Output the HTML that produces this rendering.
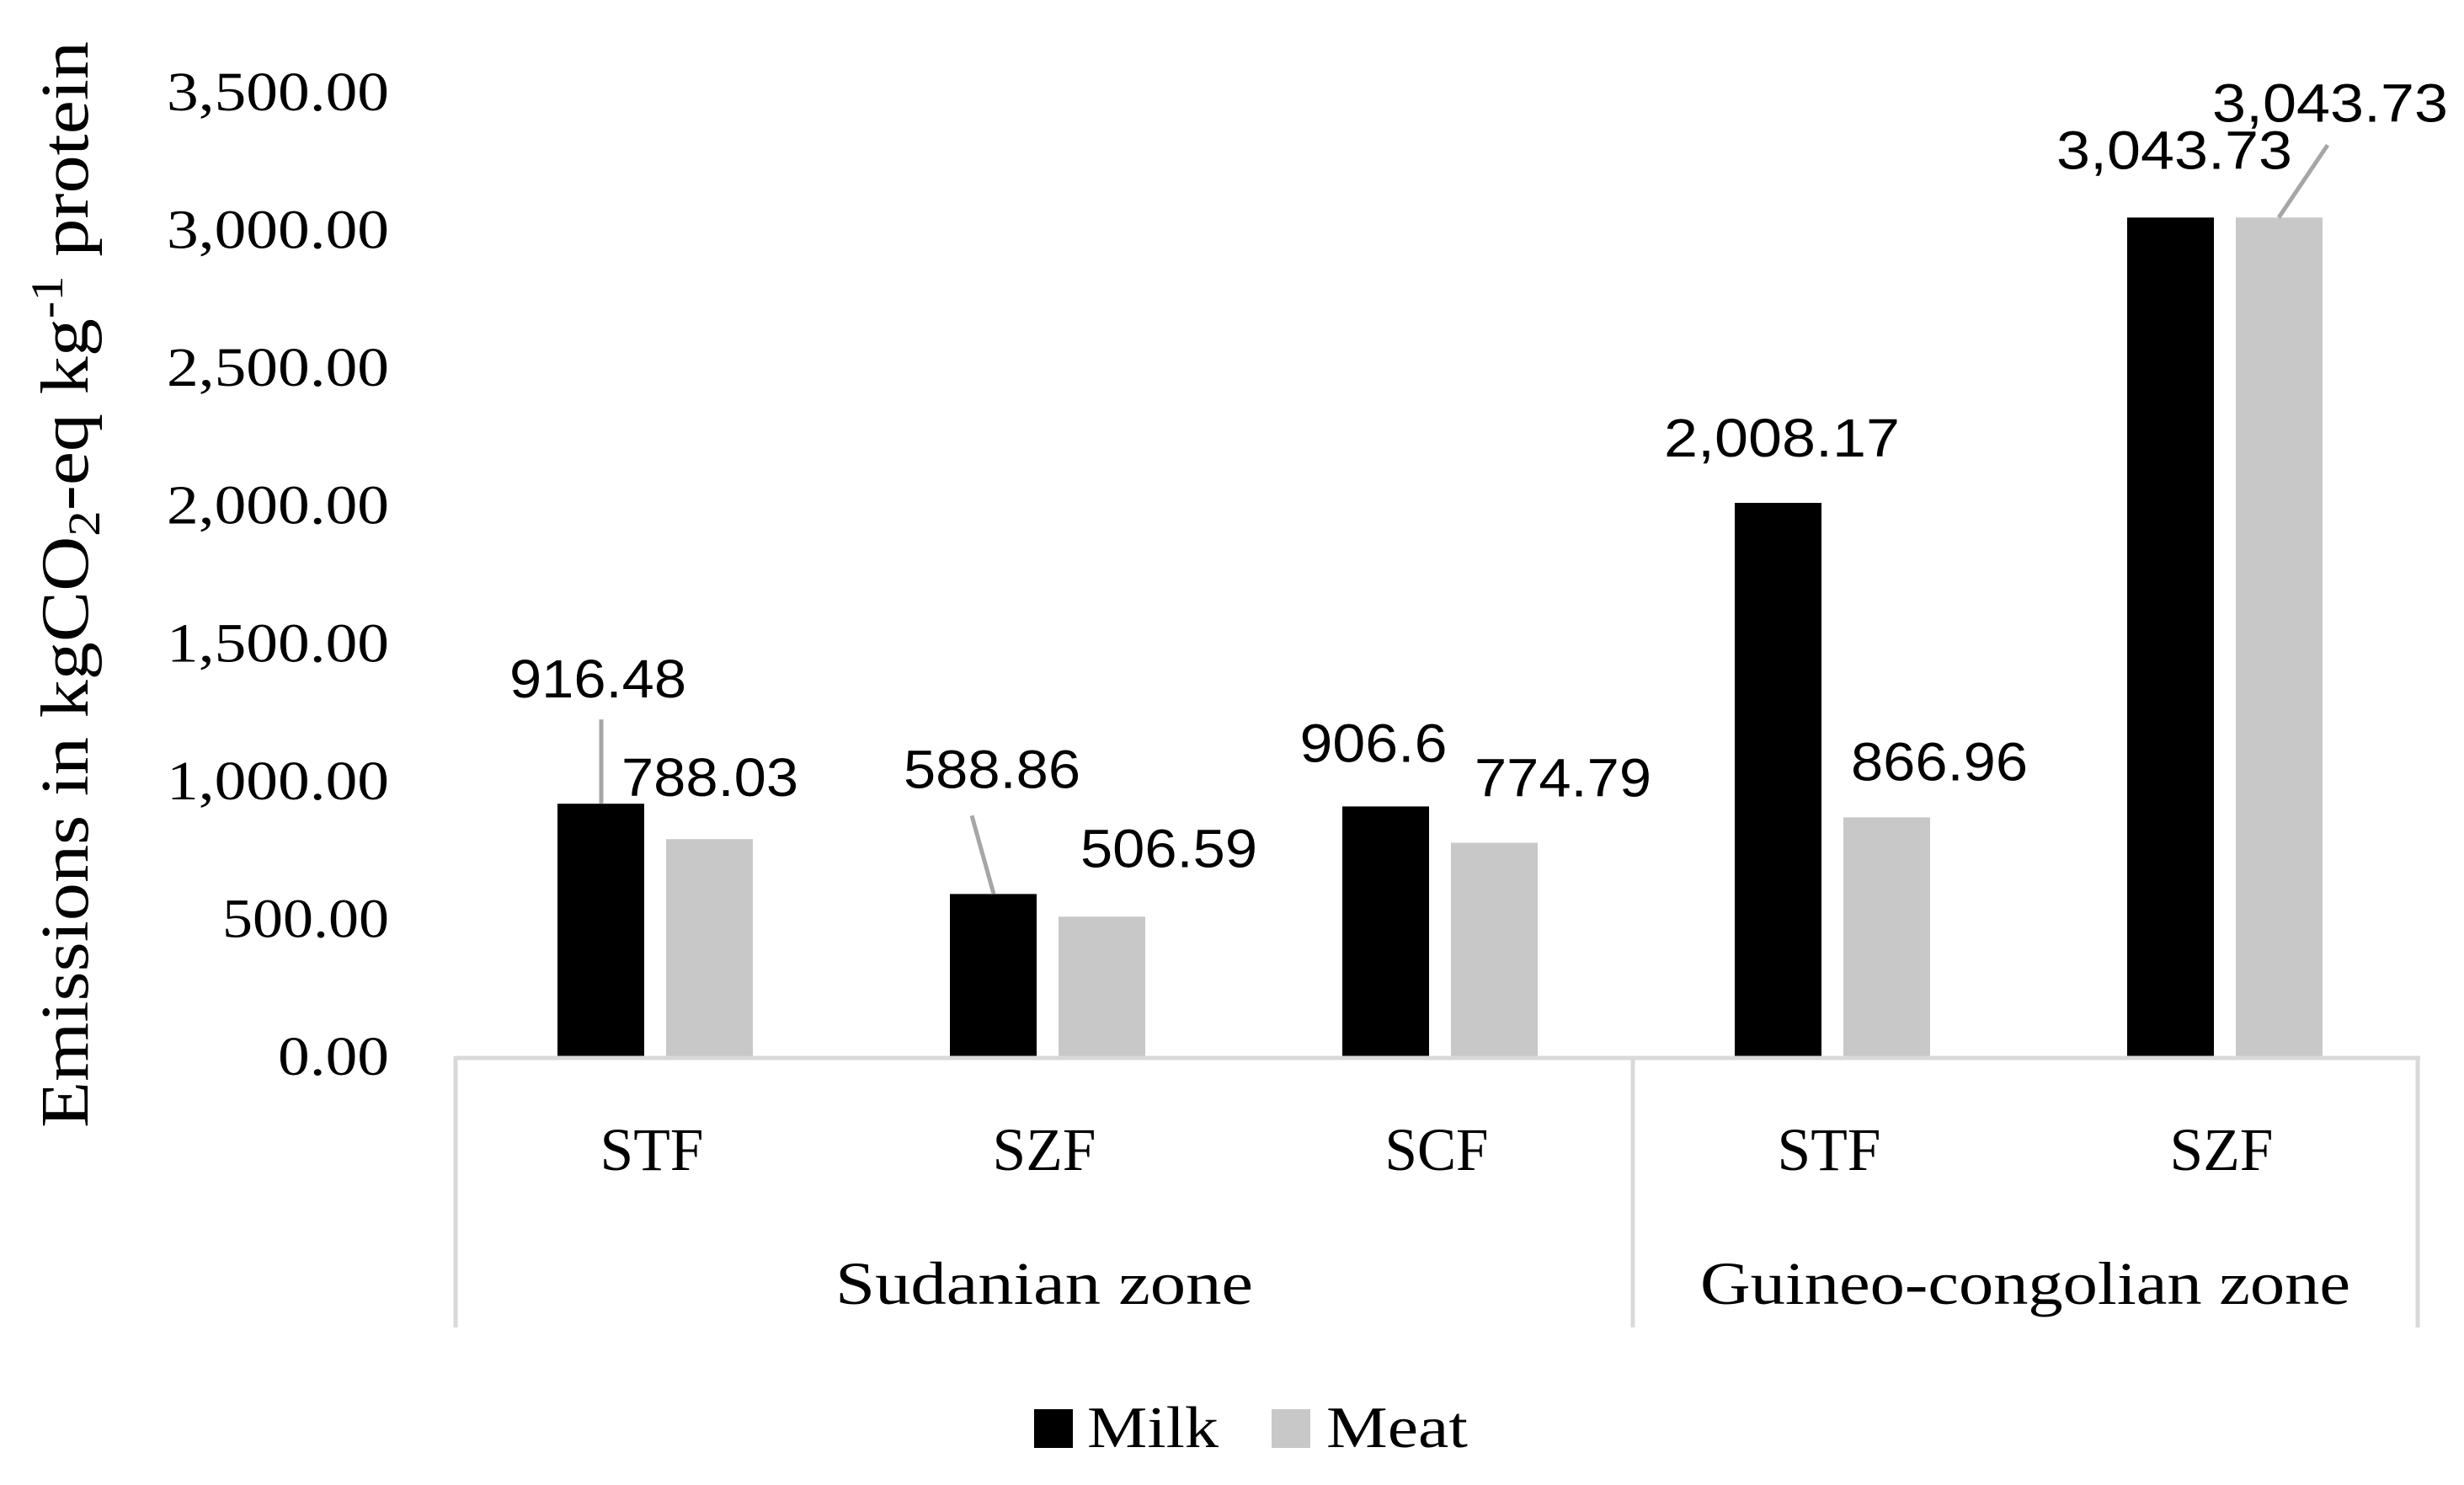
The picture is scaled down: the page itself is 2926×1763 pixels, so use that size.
<!DOCTYPE html>
<html><head><meta charset="utf-8"><style>
html,body{margin:0;padding:0;background:#fff}
svg{display:block}
.ser{font-family:"Liberation Serif",serif;fill:#000}
.san{font-family:"Liberation Sans",sans-serif;fill:#000}
</style></head><body>
<svg id="chart" width="2926" height="1763" viewBox="0 0 2926 1763" xmlns="http://www.w3.org/2000/svg">
<g id="yticks"></g>
<g id="bars"></g>
<g id="labels"></g>
<g id="xaxis"></g>
<text class="ser" transform="translate(104,694) rotate(-90)" text-anchor="middle" font-size="80" textLength="1290" lengthAdjust="spacingAndGlyphs">Emissions in kgCO<tspan font-size="54" dy="14">2</tspan><tspan dy="-14">-eq kg</tspan><tspan font-size="54" dy="-30">-1</tspan><tspan dy="30"> protein</tspan></text>
<g>
<rect x="1228" y="1673" width="46" height="46" fill="#000"/>
<text class="ser" x="1291" y="1718" font-size="70" textLength="156" lengthAdjust="spacingAndGlyphs">Milk</text>
<rect x="1510" y="1673" width="46" height="46" fill="#c8c8c8"/>
<text class="ser" x="1575" y="1718" font-size="70" textLength="168" lengthAdjust="spacingAndGlyphs">Meat</text>
</g>
</svg>
<script>
const categories = ["STF","SZF","SCF","STF","SZF"];
const zones = ["Sudanian zone","Guineo-congolian zone"];
const zoneSpans = [3,2];
const milk = [916.48,588.86,906.6,2008.17,3043.73];
const meat = [788.03,506.59,774.79,866.96,3043.73];
const milkLabels = ["916.48","588.86","906.6","2,008.17","3,043.73"];
const meatLabels = ["788.03","506.59","774.79","866.96","3,043.73"];
const yTicks = [0,500,1000,1500,2000,2500,3000,3500];

const NS="http://www.w3.org/2000/svg";
const X0=541, X1=2871, Y0=1254, YMAX=3500, YTOP=109;
const step=(X1-X0)/categories.length;
const y=v=>Y0-(v/YMAX)*(Y0-YTOP);
const cx=i=>X0+step*(i+0.5);
function mk(tag,attrs,parent,txt){const e=document.createElementNS(NS,tag);for(const k in attrs)e.setAttribute(k,attrs[k]);if(txt!==undefined)e.textContent=txt;parent.appendChild(e);return e;}
const gT=document.getElementById('yticks'),gB=document.getElementById('bars'),gL=document.getElementById('labels'),gX=document.getElementById('xaxis');
yTicks.forEach(t=>{
  const s=t.toLocaleString('en-US',{minimumFractionDigits:2});
  const e=mk('text',{x:462,y:y(t)+22,'text-anchor':'end','font-size':66,class:'ser',textLength:Math.round(s.length*33),lengthAdjust:'spacingAndGlyphs'},gT,s);
  
  
});
categories.forEach((c,i)=>{
  const m=mk('rect',{x:cx(i)-112,y:y(milk[i]),width:103,height:Y0-y(milk[i]),fill:'#000'},gB);
  
  
  const t=mk('rect',{x:cx(i)+17,y:y(meat[i]),width:103,height:Y0-y(meat[i]),fill:'#c8c8c8'},gB);
  
  
  const cl=mk('text',{x:cx(i),y:1389,'text-anchor':'middle','font-size':72,class:'ser',textLength:c.length*41,lengthAdjust:'spacingAndGlyphs'},gX,c);
  
  
});
// label placement offsets relative to bar (x from group center, y from bar top)
const milkOff=[[-64,-148,true],[-62,-148,true],[-75,-75,false],[-56,-77,false],[-56,-80,false]];
const meatOff=[[69,-73,false],[148,-81,false],[150,-77,false],[131,-66,false],[129,-136,true]];
categories.forEach((c,i)=>{
  const mx=cx(i)-60, my=y(milk[i]);
  const o=milkOff[i];
  if(o[2]){
    const l=mk('line',{x1:mx+(i==1?-26:0),y1:my+(i==1?-93:-100),x2:mx,y2:my,stroke:'#a6a6a6','stroke-width':5},gL);
    
    
  }
  const a=mk('text',{x:cx(i)+o[0],y:my+o[1]+22,'text-anchor':'middle','font-size':64,class:'san',textLength:Math.round(milkLabels[i].length*35),lengthAdjust:'spacingAndGlyphs'},gL,milkLabels[i]);
  
  
  const tx=cx(i)+68, ty=y(meat[i]);
  const p=meatOff[i];
  if(p[2]){
    const l=mk('line',{x1:tx,y1:ty,x2:tx+58,y2:ty-86,stroke:'#a6a6a6','stroke-width':5},gL);
    
    
  }
  const b=mk('text',{x:cx(i)+p[0],y:ty+p[1]+22,'text-anchor':'middle','font-size':64,class:'san',textLength:Math.round(meatLabels[i].length*35),lengthAdjust:'spacingAndGlyphs'},gL,meatLabels[i]);
  
  
});
const ax=mk('line',{x1:X0,y1:Y0+2,x2:X1+3,y2:Y0+2,stroke:'#d9d9d9','stroke-width':5},gX);


let start=0;
const divs=[X0];
const zoneLen=[496,772];
zones.forEach((z,k)=>{
  const a=X0+start*step,b=X0+(start+zoneSpans[k])*step;
  divs.push(b);
  const zl=mk('text',{x:(a+b)/2,y:1548,'text-anchor':'middle','font-size':72,class:'ser',textLength:zoneLen[k],lengthAdjust:'spacingAndGlyphs'},gX,z);
  
  
  start+=zoneSpans[k];
});
divs.forEach(d=>{
  const l=mk('line',{x1:d,y1:Y0,x2:d,y2:1576,stroke:'#d9d9d9','stroke-width':5},gX);
  
  
});
</script>
</body></html>
